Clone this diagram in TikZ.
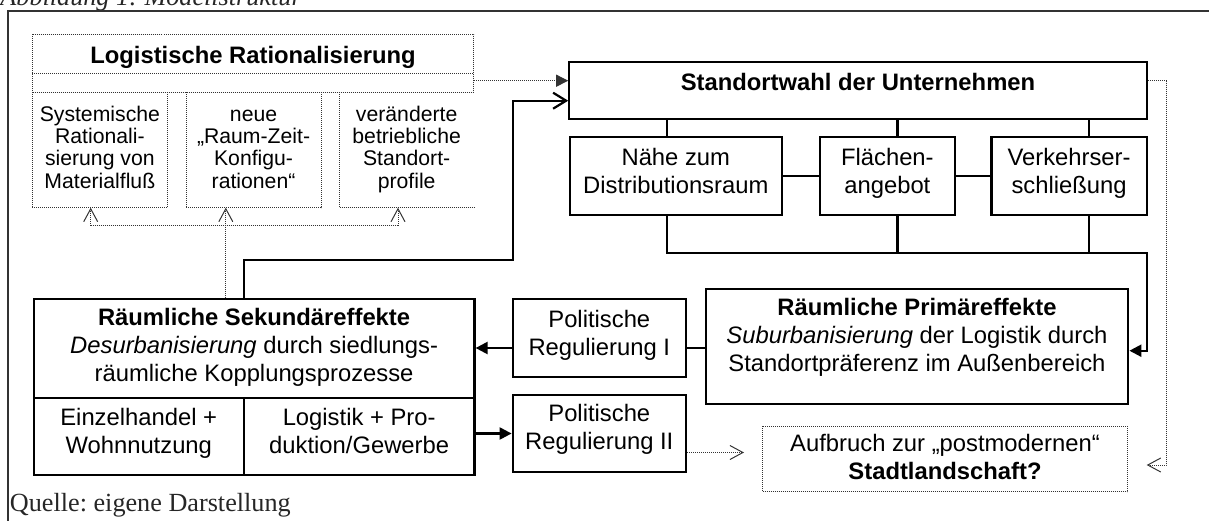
\documentclass[tikz,border=0pt]{standalone}
\usepackage{fontspec}
\setmainfont{Liberation Sans}
\newfontfamily\serifx{Liberation Serif}
\usetikzlibrary{arrows.meta,fit}
\newcommand\mainsz{\fontsize{11.9}{14}\selectfont}
\newcommand\smallsz{\fontsize{10.6}{11.15}\selectfont}
\newcommand\fstr{\rule{0pt}{0.75em}}
\begin{document}
\begin{tikzpicture}[x=0.5pt,y=-0.5pt,
  thk/.style={line width=1.1pt, draw=black},
  dotl/.style={line width=0.5pt, dash pattern=on 0.5pt off 0.5pt, draw=black!80},
  bx/.style={thk, inner sep=0pt},
  dbx/.style={dotl, inner sep=0pt},
  hid/.style={inner sep=0pt},
  txt/.style={inner sep=0pt, align=center, font=\mainsz},
  stxt/.style={inner sep=0pt, align=center, font=\smallsz},
  ftip/.style={-{Triangle[length=6pt,width=6pt]}},
  otip/.style={-{Straight Barb[length=6.5pt,width=7pt]}},
  otipb/.style={-{Straight Barb[length=6.5pt,width=8pt]}},
  frame/.style={line width=1pt, draw=black!80},
  serif/.style={anchor=base west, inner sep=0pt, text=black!85, font=\serifx\frenchspacing\fontsize{13.1}{15}\selectfont}
]
\useasboundingbox (0,0) rectangle (1209,520);
\clip (0,0) rectangle (1209,520);

% caption and frame
\node[serif, font=\serifx\frenchspacing\itshape\fontsize{13.1}{15}\selectfont] (cap) at (0,5.5) {Abbildung 1: Modellstruktur};
\draw[frame] (8.4,540) -- (8.4,11) -- (1230,11);
\node[serif] (quelle) at (9.5,511) {Quelle: eigene Darstellung};

% Logistische Rationalisierung
\node[dbx, fit={(32.5,34.3) (473.5,92.3)}] (logo) {};
\draw[dotl] (logo.west |- 0,73.3) -- (logo.east |- 0,73.3);
\node[txt, anchor=north] (loght) at (logo.center |- 0,45.7) {\fstr\bfseries Logistische Rationalisierung};
\node[hid, fit={(32.5,92.3) (167.2,207.3)}] (logA) {};
\node[hid, fit={(186.4,92.3) (320.7,207.3)}] (logB) {};
\node[hid, fit={(339.8,92.3) (473.5,207.3)}] (logC) {};
\draw[dotl] (logA.north west) -- (logA.south west) -- (logA.south east) -- (logA.north east);
\draw[dotl] (logB.north west) -- (logB.south west) -- (logB.south east) -- (logB.north east);
\draw[dotl] (logC.north west) -- (logC.south west) -- (logC.south east);
\node[stxt, anchor=north] (logAt) at (logA.center |- 0,105) {\fstr Systemische\\Rationali-\\sierung von\\Materialfluß};
\node[stxt, anchor=north] (logBt) at (logB.center |- 0,105) {\fstr neue\\„Raum-Zeit-\\Konfigu-\\rationen“};
\node[stxt, anchor=north] (logCt) at (logC.center |- 0,105) {\fstr veränderte\\betriebliche\\Standort-\\profile};

% Standortwahl
\node[bx, fit={(569.3,61.7) (1146.7,119)}] (std) {};
\node[txt] (stdt) at (858,82) {\bfseries Standortwahl der Unternehmen};
\node[bx, fit={(570,137.3) (781.6,214.8)}] (nahe) {};
\node[bx, fit={(820,137.3) (954.7,214.8)}] (flae) {};
\node[bx, fit={(991.4,137.3) (1146.7,214.8)}] (verk) {};
\node[txt, anchor=north] (nahet) at (nahe.center |- 0,147.3) {\fstr Nähe zum\\Distributionsraum};
\node[txt, anchor=north] (flaet) at (flae.center |- 0,147.3) {\fstr Flächen-\\angebot};
\node[txt, anchor=north] (verkt) at (verk.center |- 0,147.3) {\fstr Verkehrser-\\schließung};

% Sekundaereffekte
\node[bx, fit={(33.7,299.3) (474.5,397.7)}] (sek) {};
\node[bx, fit={(33.7,397.7) (243.8,475)}] (einz) {};
\node[bx, fit={(243.8,397.7) (474.5,475)}] (logi) {};
\node[txt, anchor=north] (sekt) at (sek.center |- 0,307.3) {\fstr\textbf{Räumliche Sekundäreffekte}\\\textit{Desurbanisierung} durch siedlungs-\\räumliche Kopplungsprozesse};
\node[txt, anchor=north] (einzt) at (einz.center |- 0,407.3) {\fstr Einzelhandel +\\Wohnnutzung};
\node[txt, anchor=north] (logit) at (logi.center |- 0,407.3) {\fstr Logistik + Pro-\\duktion/Gewerbe};

% Politische Regulierung
\node[bx, fit={(512.7,299.3) (685.9,376.7)}] (pol1) {};
\node[bx, fit={(512.7,395) (685.9,472)}] (pol2) {};
\node[txt, anchor=north] (pol1t) at (pol1.center |- 0,309) {\fstr Politische\\Regulierung I};
\node[txt, anchor=north] (pol2t) at (pol2.center |- 0,403.7) {\fstr Politische\\Regulierung II};

% Primaereffekte
\node[bx, fit={(705.7,289.3) (1128.3,404)}] (prim) {};
\node[txt, anchor=north] (primt) at (prim.center |- 0,297.3) {\fstr\textbf{Räumliche Primäreffekte}\\\textit{Suburbanisierung} der Logistik durch\\Standortpräferenz im Außenbereich};

% Aufbruch
\node[dbx, fit={(762.5,426) (1127.5,491.7)}] (aufb) {};
\node[txt, anchor=north] (aufbt) at (aufb.center |- 0,433.3) {\fstr Aufbruch zur „postmodernen“\\\textbf{Stadtlandschaft?}};

% coordinates
\coordinate (c1) at (666.7,253.3);
\coordinate (c2) at (897.5,253.3);
\coordinate (c3) at (1089,253.3);
\coordinate (cR) at (1146.7,253.3);
\coordinate (pa) at (1146.7,350.7);
\coordinate (s1) at (243.8,260);
\coordinate (s2) at (512.7,260);
\coordinate (s3) at (512.7,100.7);
\coordinate (r1) at (1166,80.7);
\coordinate (r2) at (1166,465);
\coordinate (r3) at (1146.7,465);
\coordinate (u1) at (225.8,250);
\coordinate (h1) at (90.7,225.7);
\coordinate (h2) at (398,225.7);
\coordinate (p1) at (600,348);
\coordinate (a1) at (744,452.5);

% Standortwahl connectors
\draw[thk] (std.south -| c1) -- (nahe.north -| c1);
\draw[thk] (std.south -| c2) -- (flae.north -| c2);
\draw[thk] (std.south -| c3) -- (verk.north -| c3);
\draw[thk] (nahe.east) -- (flae.west);
\draw[thk] (flae.east) -- (verk.west);
\draw[thk] (flae.south -| c2) -- (c2);
\draw[thk] (verk.south -| c3) -- (c3);
\draw[thk, ftip] (nahe.south -| c1) -- (c1) -- (cR) -- (pa) -- (pa -| prim.east);

% Sekundaer -> Standortwahl
\draw[thk, otipb] (sek.north -| s1) -- (s1) -- (s2) -- (s3) -- (s3 -| std.west);

% dotted connectors
\draw[dotl, ftip] (logo.east |- r1) -- (std.west |- r1);
\draw[dotl, otip] (std.east |- r1) -- (r1) -- (r2) -- (r3);
\draw[dotl, otip] (sek.north -| u1) -- (logB.south -| u1);
\draw[dotl] (h1) -- (h2);
\draw[dotl, otip] (h1) -- (logA.south -| h1);
\draw[dotl, otip] (h2) -- (logC.south -| h2);
\draw[dotl, otip] (pol2.east |- a1) -- (a1);

% Politische connectors
\draw[thk, ftip] (pol1.west |- p1) -- (sek.east |- p1);
\draw[thk] (pol1.east |- p1) -- (prim.west |- p1);
\draw[thk, ftip] (logi.east |- pol2.west) -- (pol2.west);
\end{tikzpicture}
\end{document}
